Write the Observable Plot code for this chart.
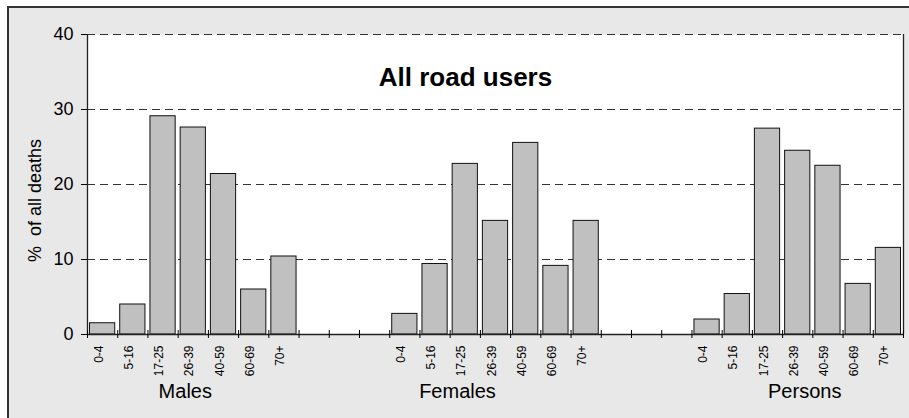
<!DOCTYPE html>
<html>
<head>
<meta charset="utf-8">
<script src="https://cdn.jsdelivr.net/npm/d3@7"></script>
<script src="https://cdn.jsdelivr.net/npm/@observablehq/plot@0.6"></script>
<style>
  html, body { margin: 0; padding: 0; background: #ffffff; overflow: hidden; }
  #wrap { position: relative; width: 909px; height: 418px; overflow: hidden; font-family: "Liberation Sans", Arial, sans-serif; }
  #frame { position: absolute; left: 7px; top: 6px; width: 1000px; height: 1000px; border: 2px solid #333; background: #e8e8e8; }
  #chart { position: absolute; left: 0; top: 0; }
</style>
</head>
<body>
<div id="wrap"><div id="frame"></div><div id="chart"></div></div>
<script>
const title = "All road users";
const yLabel = "%  of all deaths";
const ages = ["0-4", "5-16", "17-25", "26-39", "40-59", "60-69", "70+"];
const groups = ["Males", "Females", "Persons"];
const males = [1.5, 4.0, 29.1, 27.6, 21.4, 6.0, 10.4];
const females = [2.75, 9.4, 22.75, 15.15, 25.55, 9.15, 15.15];
const persons = [2.0, 5.4, 27.45, 24.5, 22.5, 6.75, 11.55];
const yTicks = [0, 10, 20, 30, 40];
const gapSlots = 3;

const series = [males, females, persons];
const slotsPerGroup = ages.length + gapSlots;
const totalSlots = groups.length * ages.length + (groups.length - 1) * gapSlots;
const data = [];
series.forEach((vals, g) => {
  vals.forEach((v, i) => {
    data.push({group: groups[g], age: ages[i], value: v, slot: g * slotsPerGroup + i});
  });
});
const groupCenters = groups.map((name, g) => ({name, x: g * slotsPerGroup + ages.length / 2}));

const chart = Plot.plot({
  width: 909,
  height: 418,
  marginLeft: 87,
  marginRight: 6,
  marginTop: 34,
  marginBottom: 84,
  style: {background: "transparent", fontFamily: "'Liberation Sans', Arial, sans-serif", fontSize: "18px", color: "#000"},
  x: {domain: [0, totalSlots], axis: null},
  y: {domain: [0, 40], axis: null},
  marks: [
    Plot.frame({fill: "white", stroke: null}),
    Plot.ruleY(yTicks.filter(d => d > 0), {stroke: "#333", strokeWidth: 1, strokeDasharray: "8,5"}),
    Plot.rectY(data, {x1: "slot", x2: d => d.slot + 1, y: "value", fill: "#c0c0c0", stroke: "#111", strokeWidth: 1, insetLeft: 2.5, insetRight: 2.5}),
    Plot.ruleX([0, totalSlots], {stroke: "#222", strokeWidth: 1.3}),
    Plot.ruleY([0], {stroke: "#222", strokeWidth: 1.3}),
    Plot.axisY({ticks: yTicks, tickSize: 6, tickPadding: 8, fontSize: 18, label: null}),
    Plot.axisX({ticks: d3.range(0, totalSlots + 1), tickSize: 8, dy: -4, tickFormat: () => "", label: null}),
    Plot.text(data, {x: d => d.slot + 0.5, text: "age", frameAnchor: "bottom", rotate: -90, textAnchor: "end", dy: 11, fontSize: 12, fill: "#000"}),
    Plot.text([groupCenters[0]], {x: "x", text: "name", frameAnchor: "bottom", dy: 63, dx: -8, fontSize: 20}),
    Plot.text([groupCenters[1]], {x: "x", text: "name", frameAnchor: "bottom", dy: 63, dx: -38, fontSize: 20}),
    Plot.text([groupCenters[2]], {x: "x", text: "name", frameAnchor: "bottom", dy: 63, dx: 7, fontSize: 20}),
    Plot.text([title], {frameAnchor: "top", dx: -30, dy: 33, fontSize: 26, fontWeight: "bold"}),
    Plot.text([yLabel], {frameAnchor: "left", rotate: -90, textAnchor: "middle", dx: -52, dy: 16, fontSize: 18})
  ]
});
document.getElementById("chart").appendChild(chart);
</script>
</body>
</html>
